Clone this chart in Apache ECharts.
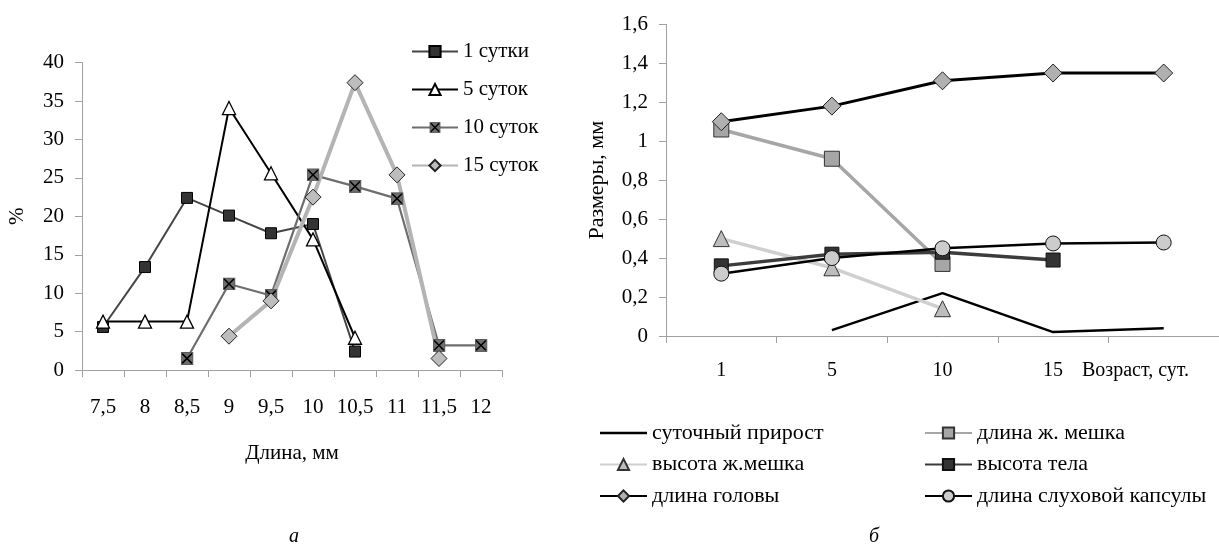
<!DOCTYPE html>
<html>
<head>
<meta charset="utf-8">
<script src="https://cdn.jsdelivr.net/npm/echarts@6/dist/echarts.min.js"></script>
<style>
  html, body { margin: 0; padding: 0; background: #fff; }
  #chart { width: 1219px; height: 545px; }
</style>
</head>
<body>
<div id="chart"></div>
<script>
// --- panel а: length distribution by age ---
const lengthCats = ['7,5', '8', '8,5', '9', '9,5', '10', '10,5', '11', '11,5', '12'];
const day1  = [5.6, 13.4, 22.4, 20.1, 17.8, 19.0, 2.4, null, null, null];
const day5  = [6.3, 6.3, 6.3, 34.1, 25.6, 17.0, 4.2, null, null, null];
const day10 = [null, null, 1.5, 11.2, 9.7, 25.4, 23.9, 22.3, 3.2, 3.2];
const day15 = [null, null, null, 4.4, 9.0, 22.5, 37.4, 25.4, 1.5, null];

// --- panel б: body measurements by age ---
const ageCats = ['1', '5', '10', '15', ''];
const dailyGain    = [null, 0.03, 0.22, 0.02, 0.04];
const yolkLength   = [1.06, 0.91, 0.37, null, null];
const yolkHeight   = [0.5, 0.35, 0.14, null, null];
const bodyHeight   = [0.36, 0.42, 0.43, 0.39, null];
const headLength   = [1.1, 1.18, 1.31, 1.35, 1.35];
const capsuleLength = [0.32, 0.40, 0.45, 0.475, 0.48];

const FONT = '"Liberation Serif", "Times New Roman", serif';
const axisColor = '#a0a0a0';

// square marker with a cross, drawn as a small svg
const crossSquareSvg =
  "<svg xmlns='http://www.w3.org/2000/svg' width='24' height='24' viewBox='0 0 12 12'>" +
  "<rect x='0.5' y='0.5' width='11' height='11' fill='#6e6e6e' stroke='#5a5a5a' stroke-width='1'/>" +
  "<path d='M1.5 1.5L10.5 10.5M10.5 1.5L1.5 10.5' stroke='#000' stroke-width='1.4'/></svg>";
const crossSquare = 'image://data:image/svg+xml;charset=utf-8,' + encodeURIComponent(crossSquareSvg);

// plain line icon for a series drawn without markers
const plainLineIcon = 'path://M0,6H47V8.4H0Z';

const commaNum = v => String(Number(v.toFixed(1))).replace('.', ',');

const labelText = size => ({ color: '#000', fontFamily: FONT, fontSize: size });

function lineSeries(name, data, xi, opts) {
  return Object.assign({
    name: name,
    type: 'line',
    xAxisIndex: xi,
    yAxisIndex: xi,
    data: data,
    connectNulls: false,
    animation: false,
    showAllSymbol: true
  }, opts);
}

const chart = echarts.init(document.getElementById('chart'));
chart.setOption({
  animation: false,
  backgroundColor: '#fff',
  title: [
    { text: 'а', left: 284, top: 522, textStyle: { fontFamily: FONT, fontSize: 20, fontStyle: 'italic', fontWeight: 'normal', color: '#000' } },
    { text: 'б', left: 864, top: 522, textStyle: { fontFamily: FONT, fontSize: 20, fontStyle: 'italic', fontWeight: 'normal', color: '#000' } }
  ],
  grid: [
    { left: 82, right: 717, top: 62.7, bottom: 175 },
    { left: 666, right: 0, top: 24.3, bottom: 209 }
  ],
  legend: [
    {
      orient: 'vertical', left: 406, top: 36,
      itemWidth: 46, itemHeight: 14, itemGap: 17,
      textStyle: labelText(21),
      data: ['1 сутки', '5 суток', '10 суток', '15 суток']
    },
    {
      orient: 'vertical', left: 594, top: 417,
      itemWidth: 47, itemHeight: 14, itemGap: 9.5,
      textStyle: labelText(22),
      data: [{ name: 'суточный прирост', icon: plainLineIcon }, 'высота ж.мешка', 'длина головы']
    },
    {
      orient: 'vertical', left: 919, top: 417,
      itemWidth: 47, itemHeight: 14, itemGap: 9.5,
      textStyle: labelText(22),
      data: ['длина ж. мешка', 'высота тела', 'длина слуховой капсулы']
    }
  ],
  xAxis: [
    {
      type: 'category', gridIndex: 0, data: lengthCats, boundaryGap: true,
      name: 'Длина, мм', nameLocation: 'middle', nameGap: 73,
      nameTextStyle: labelText(21),
      axisLine: { lineStyle: { color: axisColor, width: 1 } },
      axisTick: { show: true, inside: false, length: 7, alignWithLabel: false, lineStyle: { color: axisColor } },
      axisLabel: Object.assign({ margin: 27, interval: 0 }, labelText(21)),
      splitLine: { show: false }
    },
    {
      type: 'category', gridIndex: 1, data: ageCats, boundaryGap: true,
      name: 'Возраст, сут.', nameLocation: 'end', nameGap: -30,
      nameTextStyle: Object.assign(labelText(20), { align: 'right', verticalAlign: 'top', padding: [25, 0, 0, 0] }),
      axisLine: { lineStyle: { color: axisColor, width: 1 } },
      axisTick: { show: true, inside: false, length: 7, alignWithLabel: false, lineStyle: { color: axisColor } },
      axisLabel: Object.assign({ margin: 25, interval: 0 }, labelText(20)),
      splitLine: { show: false }
    }
  ],
  yAxis: [
    {
      type: 'value', gridIndex: 0, min: 0, max: 40, interval: 5,
      name: '%', nameLocation: 'middle', nameGap: 54,
      nameTextStyle: labelText(21),
      axisLine: { show: true, lineStyle: { color: axisColor, width: 1 } },
      axisTick: { show: true, inside: false, length: 7, lineStyle: { color: axisColor } },
      axisLabel: Object.assign({ margin: 18 }, labelText(21)),
      splitLine: { show: false }
    },
    {
      type: 'value', gridIndex: 1, min: 0, max: 1.6, interval: 0.2,
      name: 'Размеры, мм', nameLocation: 'middle', nameGap: 58,
      nameTextStyle: labelText(22),
      axisLine: { show: true, lineStyle: { color: axisColor, width: 1 } },
      axisTick: { show: true, inside: false, length: 7, lineStyle: { color: axisColor } },
      axisLabel: Object.assign({ margin: 18, formatter: commaNum }, labelText(21)),
      splitLine: { show: false }
    }
  ],
  series: [
    // panel а
    lineSeries('1 сутки', day1, 0, {
      symbol: 'rect', symbolSize: 11,
      lineStyle: { color: '#454545', width: 2 },
      itemStyle: { color: '#333', borderColor: '#000', borderWidth: 1 }
    }),
    lineSeries('5 суток', day5, 0, {
      symbol: 'triangle', symbolSize: 13,
      lineStyle: { color: '#000', width: 2 },
      itemStyle: { color: '#fff', borderColor: '#000', borderWidth: 1.3 }
    }),
    lineSeries('10 суток', day10, 0, {
      symbol: crossSquare, symbolSize: 13,
      lineStyle: { color: '#6e6e6e', width: 2.2 },
      itemStyle: { color: '#6e6e6e' }
    }),
    lineSeries('15 суток', day15, 0, {
      symbol: 'diamond', symbolSize: 16,
      lineStyle: { color: '#b4b4b4', width: 4 },
      itemStyle: { color: '#bdbdbd', borderColor: '#222', borderWidth: 1 }
    }),
    // panel б
    lineSeries('суточный прирост', dailyGain, 1, {
      symbol: 'none', showSymbol: false,
      lineStyle: { color: '#000', width: 2.5 },
      itemStyle: { color: '#000' }
    }),
    lineSeries('длина ж. мешка', yolkLength, 1, {
      symbol: 'rect', symbolSize: 15,
      lineStyle: { color: '#a6a6a6', width: 3.5 },
      itemStyle: { color: '#a6a6a6', borderColor: '#333', borderWidth: 1 }
    }),
    lineSeries('высота ж.мешка', yolkHeight, 1, {
      symbol: 'triangle', symbolSize: 16,
      lineStyle: { color: '#cfcfcf', width: 3.5 },
      itemStyle: { color: '#bdbdbd', borderColor: '#333', borderWidth: 1 }
    }),
    lineSeries('высота тела', bodyHeight, 1, {
      symbol: 'rect', symbolSize: 14,
      lineStyle: { color: '#3c3c3c', width: 3.5 },
      itemStyle: { color: '#333', borderColor: '#111', borderWidth: 1 }
    }),
    lineSeries('длина головы', headLength, 1, {
      symbol: 'diamond', symbolSize: 18,
      lineStyle: { color: '#000', width: 3 },
      itemStyle: { color: '#b0b0b0', borderColor: '#222', borderWidth: 1 }
    }),
    lineSeries('длина слуховой капсулы', capsuleLength, 1, {
      symbol: 'circle', symbolSize: 15,
      lineStyle: { color: '#000', width: 2.5 },
      itemStyle: { color: '#cccccc', borderColor: '#111', borderWidth: 1 }
    })
  ]
});
</script>
</body>
</html>
